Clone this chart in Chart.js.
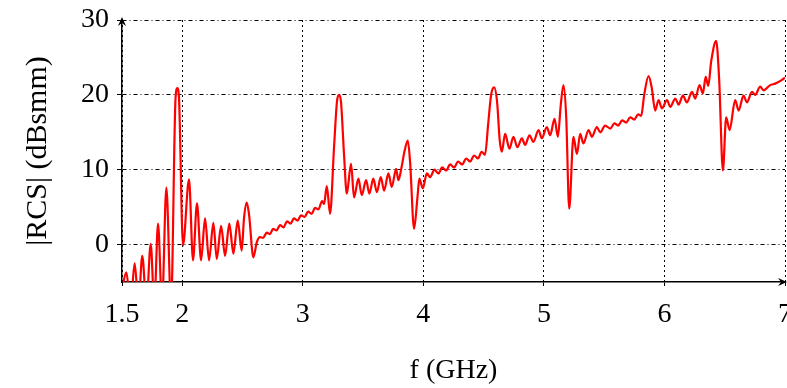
<!DOCTYPE html>
<html>
<head>
<meta charset="utf-8">
<script src="https://cdn.jsdelivr.net/npm/chart.js@4/dist/chart.umd.min.js"></script>
<style>
  html, body { margin: 0; padding: 0; background: #fff; }
  #wrap { width: 787px; height: 388px; }
</style>
</head>
<body>
<div id="wrap"><canvas id="rcs"></canvas></div>
<script>
// frequency (GHz) and |RCS| (dBsmm)
const freq = [
  1.500, 1.536, 1.571, 1.605, 1.637, 1.668, 1.703, 1.738, 1.768, 1.799,
  1.832, 1.868, 1.907, 1.944, 1.959, 1.973, 2.006, 2.056, 2.089, 2.122,
  2.156, 2.189, 2.222, 2.258, 2.286, 2.322, 2.355, 2.390, 2.424, 2.460,
  2.493, 2.512, 2.535, 2.554, 2.590, 2.618, 2.645, 2.670, 2.701, 2.728,
  2.753, 2.782, 2.811, 2.840, 2.869, 2.898, 2.927, 2.956, 2.985, 3.015,
  3.044, 3.073, 3.102, 3.129, 3.160, 3.176, 3.199, 3.226, 3.259, 3.284,
  3.301, 3.317, 3.342, 3.365, 3.400, 3.425, 3.461, 3.489, 3.525, 3.552,
  3.585, 3.614, 3.647, 3.674, 3.710, 3.738, 3.774, 3.793, 3.821, 3.844,
  3.871, 3.890, 3.923, 3.951, 3.967, 3.995, 4.029, 4.056, 4.092, 4.125,
  4.156, 4.189, 4.222, 4.255, 4.288, 4.322, 4.355, 4.388, 4.421, 4.454,
  4.483, 4.512, 4.537, 4.562, 4.587, 4.612, 4.633, 4.651, 4.678, 4.714,
  4.747, 4.780, 4.817, 4.844, 4.880, 4.913, 4.955, 4.983, 5.024, 5.052,
  5.088, 5.116, 5.139, 5.162, 5.185, 5.210, 5.245, 5.274, 5.301, 5.328,
  5.370, 5.398, 5.439, 5.467, 5.508, 5.550, 5.585, 5.616, 5.649, 5.682,
  5.716, 5.749, 5.782, 5.807, 5.832, 5.868, 5.894, 5.923, 5.951, 5.979,
  6.021, 6.048, 6.090, 6.117, 6.153, 6.186, 6.228, 6.255, 6.291, 6.319,
  6.342, 6.363, 6.388, 6.429, 6.454, 6.485, 6.512, 6.540, 6.587, 6.615,
  6.656, 6.684, 6.726, 6.753, 6.794, 6.822, 6.877, 6.919, 6.975, 7.000
];
const rcs = [
  -6.0, -3.7, -8.0, -2.5, -8.0, -1.5, -8.0, 0.1, -8.0, 2.8,
  -8.0, 7.6, -8.0, 19.5, 20.9, 19.5, -0.1, 8.7, -2.1, 5.5,
  -2.1, 3.5, -2.1, 2.9, -1.9, 2.5, -1.5, 2.8, -1.2, 3.2,
  -0.8, 3.5, 5.6, 4.0, -1.7, 0.3, 1.0, 0.9, 1.6, 1.4,
  2.1, 1.9, 2.6, 2.3, 3.1, 2.8, 3.5, 3.2, 3.9, 3.7,
  4.4, 4.1, 4.9, 4.7, 5.8, 5.4, 7.8, 4.1, 13.0, 19.2,
  20.0, 19.0, 12.0, 6.8, 10.8, 6.3, 8.8, 6.6, 8.6, 6.8,
  8.8, 7.0, 9.0, 7.2, 9.5, 7.7, 10.1, 8.6, 10.5, 12.5,
  13.9, 11.0, 2.1, 6.3, 8.8, 7.5, 9.5, 9.0, 10.0, 9.5,
  10.3, 9.9, 10.7, 10.3, 11.1, 10.7, 11.5, 11.1, 11.9, 11.5,
  12.4, 12.0, 16.0, 20.0, 21.0, 19.0, 14.0, 12.4, 14.8, 12.8,
  14.4, 13.0, 14.2, 13.3, 14.6, 13.7, 15.3, 14.2, 15.7, 14.6,
  16.8, 14.4, 18.5, 21.3, 17.0, 4.8, 14.4, 12.1, 14.8, 13.5,
  15.3, 14.4, 15.7, 15.0, 15.9, 15.5, 16.2, 15.9, 16.6, 16.3,
  17.0, 16.7, 17.4, 17.2, 20.0, 22.5, 21.0, 17.9, 19.3, 18.2,
  19.3, 18.4, 19.5, 18.7, 19.9, 19.0, 20.4, 19.5, 21.3, 20.2,
  22.4, 21.2, 24.5, 27.2, 22.0, 9.9, 17.0, 15.3, 19.3, 17.9,
  19.9, 19.0, 20.4, 20.0, 21.1, 20.6, 21.3, 21.5, 22.0, 22.3
];
const xTicks = [1.5, 2, 3, 4, 5, 6, 7];
const yTicks = [0, 10, 20, 30];

const serif = "'Liberation Serif', 'DejaVu Serif', serif";

// arrowheads at the end of both axes
const axisArrows = {
  id: "axisArrows",
  afterDraw(chart) {
    const { ctx, chartArea: a } = chart;
    ctx.save();
    ctx.fillStyle = "#000";
    ctx.beginPath();
    ctx.moveTo(a.left, a.top - 3);
    ctx.lineTo(a.left - 4, a.top + 6);
    ctx.lineTo(a.left, a.top + 3);
    ctx.lineTo(a.left + 4, a.top + 6);
    ctx.closePath();
    ctx.fill();
    ctx.beginPath();
    ctx.moveTo(a.right + 2, a.bottom);
    ctx.lineTo(a.right - 7, a.bottom - 4);
    ctx.lineTo(a.right - 4, a.bottom);
    ctx.lineTo(a.right - 7, a.bottom + 4);
    ctx.closePath();
    ctx.fill();
    ctx.restore();
  }
};

new Chart(document.getElementById("rcs"), {
  type: "line",
  data: {
    datasets: [{
      data: freq.map((f, i) => ({ x: f, y: rcs[i] })),
      borderColor: "#ff0000",
      borderWidth: 2.2,
      pointRadius: 0,
      cubicInterpolationMode: "monotone",
      clip: 0
    }]
  },
  options: {
    responsive: true,
    maintainAspectRatio: false,
    animation: false,
    layout: { padding: { left: 20, right: 2, top: 20, bottom: 0 } },
    plugins: { legend: { display: false }, tooltip: { enabled: false } },
    scales: {
      x: {
        type: "linear",
        min: 1.5,
        max: 7,
        afterBuildTicks: s => { s.ticks = xTicks.map(v => ({ value: v })); },
        afterFit: s => { s.height = 106; s.paddingLeft = 0; s.paddingRight = 0; },
        grid: { color: "#000", lineWidth: 1, tickLength: 4, tickColor: "#000" },
        border: { display: true, color: "#000", width: 1.5, dash: [2, 3] },
        ticks: {
          color: "#000", padding: 12, maxRotation: 0, autoSkip: false,
          font: { family: serif, size: 28 },
          callback: v => String(v)
        },
        title: {
          display: true, text: "f (GHz)", color: "#000",
          font: { family: serif, size: 28 }, padding: { top: 0, bottom: 1 }
        }
      },
      y: {
        min: -5,
        max: 30,
        afterBuildTicks: s => { s.ticks = yTicks.map(v => ({ value: v })); },
        afterFit: s => { s.width = 102; s.paddingTop = 0; s.paddingBottom = 0; },
        grid: { color: "#000", lineWidth: 1, tickLength: 5, tickColor: "#000" },
        border: { display: true, color: "#000", width: 1.5, dash: [4, 3, 1, 3] },
        ticks: {
          color: "#000", padding: 8,
          font: { family: serif, size: 28 },
          callback: v => String(v)
        },
        title: {
          display: true, text: "|RCS| (dBsmm)", color: "#000",
          font: { family: serif, size: 30 }, padding: { top: 0, bottom: 0 }
        }
      }
    }
  },
  plugins: [axisArrows]
});
</script>
</body>
</html>
